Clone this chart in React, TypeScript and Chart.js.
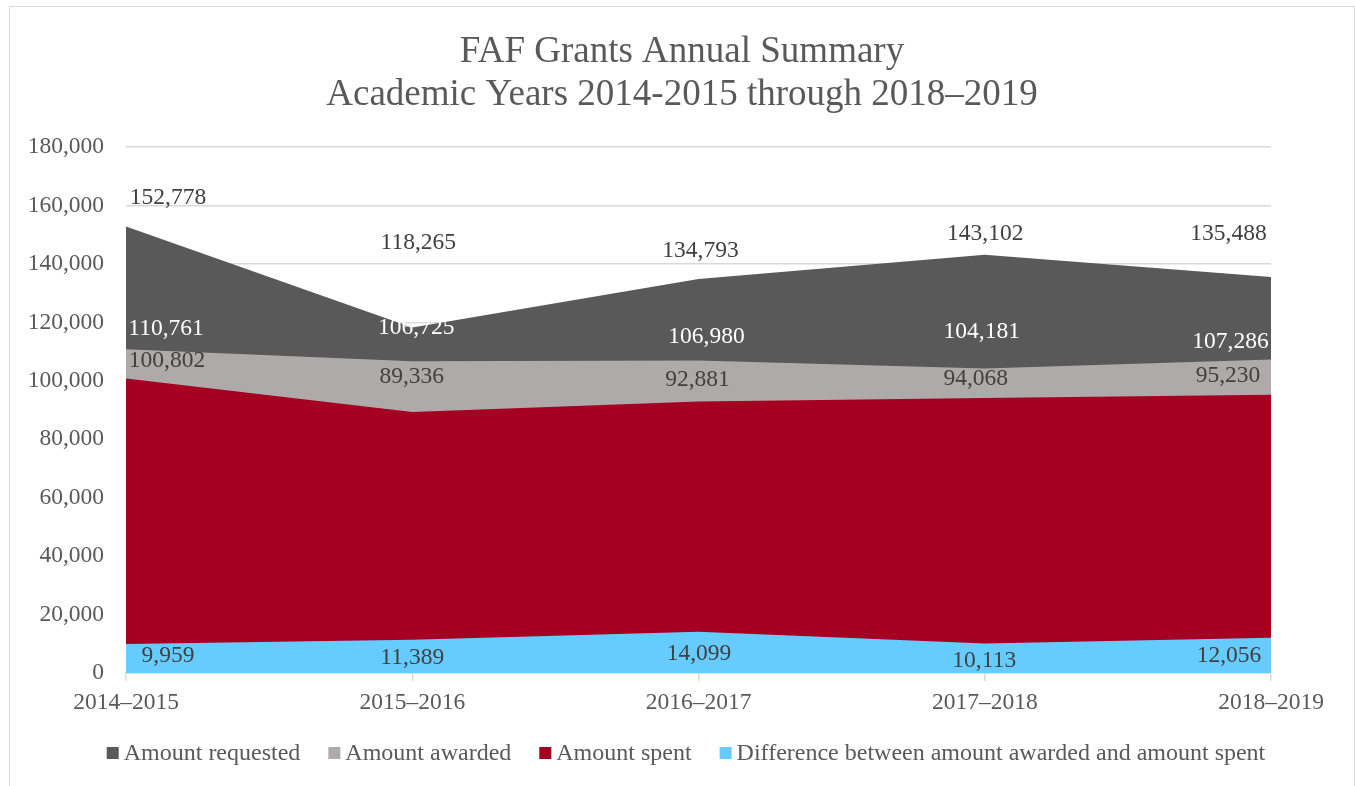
import React, { useEffect, useRef } from "react";
import { Chart, registerables } from "chart.js";

Chart.register(...registerables);

const categories = ["2014–2015", "2015–2016", "2016–2017", "2017–2018", "2018–2019"];
const amountRequested = [152778, 118265, 134793, 143102, 135488];
const amountAwarded = [110761, 106725, 106980, 104181, 107286];
const amountSpent = [100802, 89336, 92881, 94068, 95230];
const difference = [9959, 11389, 14099, 10113, 12056];
const seriesNames = [
  "Amount requested",
  "Amount awarded",
  "Amount spent",
  "Difference between amount awarded and amount spent",
];
const titleLines = ["FAF Grants Annual Summary", "Academic Years 2014-2015 through 2018–2019"];
const yTicks = [0, 20000, 40000, 60000, 80000, 100000, 120000, 140000, 160000, 180000];

// styles
const COLORS = ["#595959", "#AEAAAA", "#A50021", "#66CCFF"];
const LABEL_COLORS = ["#404040", "#FFFFFF", "#404040", "#404040"];
const FONT = "'Liberation Serif', 'Times New Roman', serif";
const TEXT = "#595959";
// Data label pixel offsets relative to each point (Excel placement)
const LABEL_DX = [
  [42, 6, 2, 0.5, -42.5],
  [40, 4, 8, -3, -40.5],
  [41, -0.5, -1, -9, -43],
  [42, 0, 0.5, -0.5, -42],
];
const LABEL_DY = [
  [-28.6, -84.4, -28.1, -21.4, -43.1],
  [-20.4, -33.2, -23.9, -36.6, -17.5],
  [-17.5, -35.4, -21.6, -19.6, -19.2],
  [12.1, 18.3, 22.2, 17.1, 17.7],
];

const fmt = (v: number) => v.toLocaleString("en-US");

const labelPlugin = {
  id: "areaLabels",
  afterDatasetsDraw(chart: any) {
    const ctx = chart.ctx;
    ctx.save();
    ctx.font = `23.5px ${FONT}`;
    ctx.textAlign = "center";
    ctx.textBaseline = "middle";
    chart.data.datasets.forEach((ds: any, i: number) => {
      const meta = chart.getDatasetMeta(i);
      meta.data.forEach((pt: any, j: number) => {
        ctx.fillStyle = LABEL_COLORS[i];
        ctx.fillText(fmt(ds.data[j]), pt.x + LABEL_DX[i][j], pt.y + LABEL_DY[i][j]);
      });
    });
    ctx.restore();
  },
};

const titleLegendPlugin = {
  id: "titleLegend",
  afterDraw(chart: any) {
    const ctx = chart.ctx;
    ctx.save();
    // title
    ctx.font = `37px ${FONT}`;
    ctx.fillStyle = TEXT;
    ctx.textAlign = "center";
    ctx.textBaseline = "middle";
    const cx = chart.width / 2;
    ctx.fillText(titleLines[0], cx, 45.5);
    ctx.fillText(titleLines[1], cx, 88);

    // legend
    ctx.font = `24px ${FONT}`;
    const box = 12;
    const gapText = 5;
    const gapItem = 28;
    const widths = seriesNames.map((n) => ctx.measureText(n).width);
    const total =
      widths.reduce((a, b) => a + b, 0) + seriesNames.length * (box + gapText) + gapItem * (seriesNames.length - 1);
    let x = (chart.width - total) / 2 + 4;
    const boxTop = 740;
    const baseline = 753;
    seriesNames.forEach((n, i) => {
      ctx.fillStyle = COLORS[i];
      ctx.fillRect(x, boxTop, box, box);
      x += box + gapText;
      ctx.fillStyle = TEXT;
      ctx.textAlign = "left";
      ctx.textBaseline = "alphabetic";
      ctx.fillText(n, x, baseline);
      x += widths[i] + gapItem;
    });
    ctx.restore();
  },
};

export default function App() {
  const ref = useRef<HTMLCanvasElement>(null);
  useEffect(() => {
    if (!ref.current) return;
    const series = [amountRequested, amountAwarded, amountSpent, difference];
    const chart = new Chart(ref.current, {
      type: "line",
      data: {
        labels: categories,
        datasets: series.map((d, i) => ({
          label: seriesNames[i],
          data: d,
          backgroundColor: COLORS[i],
          borderColor: COLORS[i],
          borderWidth: 0,
          pointRadius: 0,
          fill: "origin",
          tension: 0,
          order: 4 - i,
        })),
      },
      options: {
        animation: false,
        responsive: false,
        maintainAspectRatio: false,
        layout: { padding: { left: 0, right: 83, top: 140, bottom: 62 } },
        plugins: {
          legend: { display: false },
          tooltip: { enabled: false },
          title: { display: false },
        },
        scales: {
          x: {
            offset: false,
            grid: {
              display: true,
              drawOnChartArea: false,
              drawTicks: true,
              tickLength: 8,
              color: "#D9D9D9",
              lineWidth: 1.5,
            },
            border: { display: true, color: "#D9D9D9", width: 1.5 },
            ticks: { color: TEXT, font: { family: FONT, size: 23.5 }, padding: 8, maxRotation: 0 },
            afterFit: (s: any) => {
              s.height = 60;
            },
          },
          y: {
            min: 0,
            max: 180000,
            afterBuildTicks: (s: any) => {
              s.ticks = yTicks.map((v) => ({ value: v }));
            },
            grid: { color: "#D9D9D9", lineWidth: 1.5, drawTicks: false },
            border: { display: false },
            ticks: {
              color: TEXT,
              font: { family: FONT, size: 23.5 },
              padding: 22,
              callback: (v: any) => fmt(Number(v)),
            },
            afterFit: (s: any) => {
              s.width = 116;
            },
          },
        },
      },
      plugins: [labelPlugin, titleLegendPlugin],
    });
    return () => chart.destroy();
  }, []);

  return (
    <div
      style={{
        position: "absolute",
        left: 9,
        top: 6,
        width: 1346,
        height: 790,
        border: "1px solid #D9D9D9",
        boxSizing: "border-box",
        background: "#fff",
      }}
    >
      <canvas ref={ref} width={1344} height={788} style={{ display: "block" }} />
    </div>
  );
}
